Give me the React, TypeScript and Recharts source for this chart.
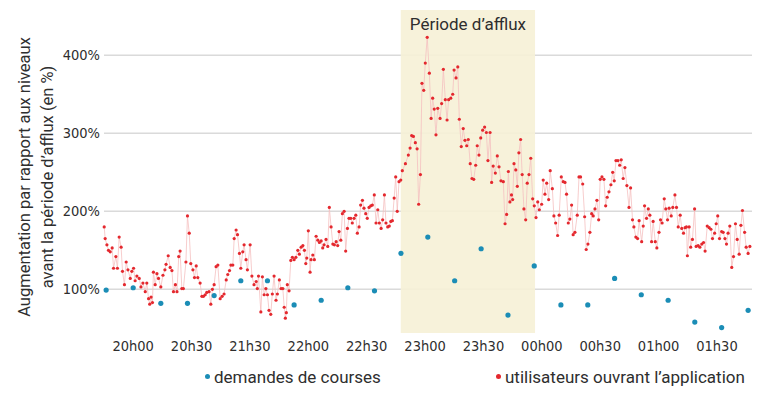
import React from 'react'
import { ComposedChart, Line, XAxis, YAxis, CartesianGrid, ReferenceArea } from 'recharts'

// time axis: minutes after 19h45
const tickMinutes = [15, 45, 75, 105, 135, 165, 195, 225, 255, 285, 315]
const tickLabels = ['20h00', '20h30', '21h30', '22h00', '22h30', '23h00', '23h30', '00h00', '00h30', '01h00', '01h30']
const percentTicks = [100, 200, 300, 400]

// "Période d'afflux"
const peakStart = 152.5
const peakEnd = 221.5

// demandes de courses  [minute, %]
const rideRequests: [number, number][] = [
  [1.1, 99], [15.0, 102], [29.2, 82], [42.9, 82], [56.6, 92], [70.3, 111], [84.0, 111], [97.7, 80],
  [111.6, 86], [125.3, 102], [139.0, 98], [152.6, 146], [166.4, 167], [180.2, 111], [193.8, 152],
  [207.6, 67], [221.1, 130], [234.8, 80], [248.6, 80], [262.4, 114], [276.1, 93], [289.9, 86],
  [303.6, 58], [317.4, 51], [331.0, 73],
]

// utilisateurs ouvrant l'application  [minute, %]
const appOpens: [number, number][] = [
  [0.1, 180], [0.6, 165], [1.5, 157], [2.3, 150], [3.2, 148], [4.2, 153], [4.9, 127], [6.1, 142], [6.9, 127],
  [7.8, 167], [8.8, 154], [9.5, 123], [10.5, 106], [11.4, 135], [12.3, 125], [13.5, 114], [14.3, 123],
  [15.2, 127], [16.0, 111], [16.9, 117], [18.1, 114], [19.0, 103], [20.0, 108], [21.2, 97], [22.0, 108],
  [22.9, 88], [23.5, 81], [24.2, 90], [24.9, 83], [25.4, 122], [26.3, 106], [27.2, 120], [28.0, 114],
  [29.2, 103], [30.3, 118], [31.3, 125], [31.9, 132], [33.0, 143], [34.0, 128], [34.9, 124], [35.7, 97],
  [36.7, 106], [37.5, 97], [38.4, 142], [39.1, 149], [40.0, 101], [40.8, 101], [42.1, 135], [42.9, 194],
  [43.8, 172], [44.6, 133], [45.7, 125], [46.5, 115], [47.4, 130], [48.2, 115], [49.4, 108], [50.3, 91],
  [51.1, 91], [52.0, 93], [52.8, 96], [54.0, 97], [54.9, 81], [55.7, 100], [56.6, 106], [57.6, 129],
  [58.5, 131], [59.7, 88], [60.7, 91], [61.7, 94], [62.8, 112], [63.6, 119], [64.5, 124], [65.2, 131],
  [66.2, 131], [66.9, 165], [67.9, 176], [68.6, 170], [69.6, 146], [70.3, 127], [71.3, 148], [72.0, 157],
  [73.0, 138], [73.7, 125],
  [75.1, 157], [76.0, 117], [77.1, 106], [78.2, 110], [78.8, 101], [79.4, 117], [80.6, 71], [81.4, 116],
  [82.3, 93], [83.2, 101], [84.0, 93], [84.8, 73], [85.7, 68], [86.5, 94], [87.4, 117], [88.4, 86],
  [89.1, 94], [90.1, 112], [91.0, 101], [91.9, 101], [92.6, 77], [93.2, 63], [93.7, 70], [94.2, 106],
  [95.1, 98], [96.0, 137], [96.8, 141], [97.7, 138], [98.6, 141], [99.6, 150], [100.4, 145], [101.3, 154],
  [102.2, 156], [103.0, 150], [103.7, 133], [104.2, 140], [105.0, 175], [105.9, 122], [106.4, 138],
  [107.3, 144], [108.1, 138], [109.0, 168], [109.9, 163], [110.7, 160], [111.6, 162], [112.4, 153],
  [113.1, 157], [114.1, 164], [115.0, 155], [115.8, 205], [116.7, 180], [117.6, 158], [118.4, 157],
  [119.3, 161], [120.1, 156], [120.8, 174], [121.7, 163], [122.5, 197], [123.4, 200], [124.2, 149],
  [125.1, 178], [125.9, 191], [126.8, 191], [127.6, 185], [128.5, 191], [129.4, 195], [130.2, 172],
  [131.1, 180], [131.9, 208], [132.8, 214], [133.6, 204], [134.5, 197], [135.3, 191], [136.2, 205],
  [137.1, 207], [137.9, 208], [138.9, 221], [139.8, 185], [140.7, 202], [141.5, 185], [142.4, 178],
  [143.2, 189], [144.1, 221], [144.9, 185], [145.8, 180], [146.6, 181], [147.4, 187], [148.2, 188],
  [149.1, 217], [149.9, 244], [150.7, 200], [151.6, 238], [152.5, 240], [153.3, 252],
  [154.9, 261], [156.4, 272], [157.3, 281], [158.1, 297], [159.0, 296], [160.0, 288], [160.9, 280],
  [161.7, 209], [162.6, 247], [163.4, 364], [164.3, 355], [165.1, 390], [166.1, 423], [167.2, 377],
  [168.1, 319], [168.9, 345], [169.7, 331], [170.6, 298], [171.5, 332], [172.7, 319], [173.5, 338],
  [174.4, 382], [175.4, 343], [176.3, 317], [177.1, 343], [178.2, 345], [179.2, 350], [179.9, 381],
  [180.9, 371], [181.8, 385], [182.6, 318], [183.6, 283], [184.6, 306], [185.5, 291], [186.4, 284],
  [187.2, 292], [188.2, 261], [189.1, 242], [190.0, 241], [191.0, 259], [191.8, 284], [192.7, 272],
  [193.6, 294], [194.6, 304], [195.6, 308], [196.5, 301], [197.3, 265], [198.4, 301], [199.2, 237],
  [200.0, 258], [201.1, 249], [202.1, 271], [203.0, 257], [204.0, 239], [205.2, 238], [206.1, 184],
  [206.9, 196], [207.8, 251], [208.6, 212], [209.4, 221], [210.0, 215], [210.7, 261], [211.6, 253],
  [212.4, 232], [213.2, 275], [214.1, 292], [214.9, 247], [215.8, 203], [216.7, 189], [217.5, 236],
  [218.4, 247], [219.3, 268],
  [220.3, 216], [221.1, 207], [222.0, 192], [222.9, 212], [223.7, 202], [224.9, 209], [225.7, 240],
  [226.6, 222], [227.5, 236], [228.5, 215], [229.3, 252], [230.4, 229], [231.2, 194], [232.1, 185],
  [233.1, 169], [233.9, 195], [235.0, 244], [236.0, 238], [236.9, 237], [237.7, 222], [238.6, 185],
  [239.4, 190], [240.3, 208], [241.1, 170], [242.0, 173], [243.2, 195], [244.1, 244], [244.9, 244],
  [246.0, 235], [247.0, 193], [247.8, 151], [248.7, 158], [249.7, 173], [250.6, 197], [251.4, 194],
  [252.3, 203], [253.3, 214], [254.2, 189], [255.0, 241], [255.9, 244], [256.9, 241], [257.8, 207],
  [258.6, 218], [259.5, 225], [260.5, 234], [261.4, 250], [262.2, 239], [263.1, 265], [264.1, 265],
  [265.0, 259], [265.8, 266], [266.8, 242], [267.7, 256], [268.7, 233], [269.8, 205], [270.6, 230],
  [271.6, 189], [272.3, 180], [273.3, 167], [274.2, 165], [275.0, 188], [276.3, 161], [277.1, 181],
  [277.8, 207], [278.8, 191], [279.7, 203], [280.5, 195], [281.4, 161], [282.2, 187], [283.3, 161],
  [284.1, 153], [285.2, 173], [286.0, 189], [286.8, 185], [287.9, 216], [288.7, 203], [289.6, 189],
  [290.4, 204], [291.5, 194], [292.3, 205], [293.4, 221], [294.2, 205], [295.1, 180], [296.1, 195],
  [296.9, 178], [297.8, 172], [298.6, 179], [299.3, 180], [299.8, 143], [300.7, 180], [301.5, 154],
  [302.4, 164], [303.5, 203], [304.3, 155], [305.3, 156], [306.2, 154], [307.2, 158], [308.1, 160],
  [308.9, 149], [310.0, 181], [311.0, 179], [311.9, 177], [312.7, 165], [313.8, 172], [314.6, 184],
  [315.4, 194], [316.3, 165], [317.4, 174], [318.2, 173], [319.1, 165], [319.9, 158], [320.7, 172],
  [321.6, 181], [322.6, 128], [323.5, 142], [324.5, 184], [325.4, 164], [326.4, 145], [327.3, 182],
  [328.1, 201], [329.2, 173], [330.0, 154], [331.0, 146], [331.9, 155],
]

const tickFont = '"DejaVu Sans Condensed", "DejaVu Sans", sans-serif'
const textFont = 'Roboto, "Noto Sans", sans-serif'
const textColor = '#2e2e2e'
const red = '#e4282e'
const blue = '#1b8db6'

const YTitle = () => (
  <text transform="translate(0,177) rotate(-90)" textAnchor="middle" fontSize={16.5}
    fill={textColor} fontFamily={textFont}>
    <tspan x={0} y={30}>Augmentation par rapport aux niveaux</tspan>
    <tspan x={0} y={53}>avant la période d’afflux (en %)</tspan>
  </text>
)

const LegendDot = ({ color }: { color: string }) => (
  <span style={{ display: 'inline-block', width: 5, height: 5, borderRadius: 3, background: color, marginRight: 4, verticalAlign: 'middle', position: 'relative', top: -2 }} />
)

export default function App() {
  const requests = rideRequests.map(([t, v]) => ({ t, v }))
  const opens = appOpens.map(([t, v]) => ({ t, v }))

  return (
    <div style={{ position: 'absolute', left: 0, top: 0, width: 776, height: 395, background: '#fff' }}>
      <ComposedChart width={776} height={395} margin={{ top: 10, right: 24, bottom: 0, left: 0 }}>
        <ReferenceArea x1={peakStart} x2={peakEnd} fill="#f6f1d6" fillOpacity={0.9} stroke="none"
          label={{ value: 'Période d’afflux', position: 'insideTop', offset: 8, fontSize: 17, fill: textColor, fontFamily: textFont }} />
        <CartesianGrid vertical={false} horizontalValues={percentTicks} stroke="#dadada" strokeWidth={1.5} />
        <XAxis type="number" dataKey="t" domain={[0, 333]} ticks={tickMinutes}
          tickFormatter={(m: number) => tickLabels[tickMinutes.indexOf(m)]}
          axisLine={false} tickLine={false} tickSize={0} tickMargin={8} height={62}
          tick={{ fontSize: 14.5, fill: textColor, fontFamily: tickFont }} interval={0} />
        <YAxis type="number" domain={[44, 458]} ticks={percentTicks} allowDataOverflow
          tickFormatter={(v: number) => `${v}%`} axisLine={false} tickLine={false} tickSize={0} tickMargin={4}
          width={104} tick={{ fontSize: 14.5, fill: textColor, fontFamily: tickFont }}
          label={{ content: () => <YTitle /> }} />
        <Line data={opens} dataKey="v" stroke="#f5c0c0" strokeWidth={0.8} isAnimationActive={false}
          dot={{ r: 1.6, fill: red, stroke: 'none' }} activeDot={false} />
        <Line data={requests} dataKey="v" stroke="none" isAnimationActive={false}
          dot={{ r: 2.6, fill: blue, stroke: 'none' }} activeDot={false} />
      </ComposedChart>
      <div style={{ position: 'absolute', left: 205, top: 367, fontFamily: textFont, fontSize: 17, color: textColor, whiteSpace: 'nowrap' }}>
        <LegendDot color={blue} />demandes de courses
      </div>
      <div style={{ position: 'absolute', left: 496, top: 367, fontFamily: textFont, fontSize: 17, color: textColor, whiteSpace: 'nowrap' }}>
        <LegendDot color={red} />utilisateurs ouvrant l’application
      </div>
    </div>
  )
}
